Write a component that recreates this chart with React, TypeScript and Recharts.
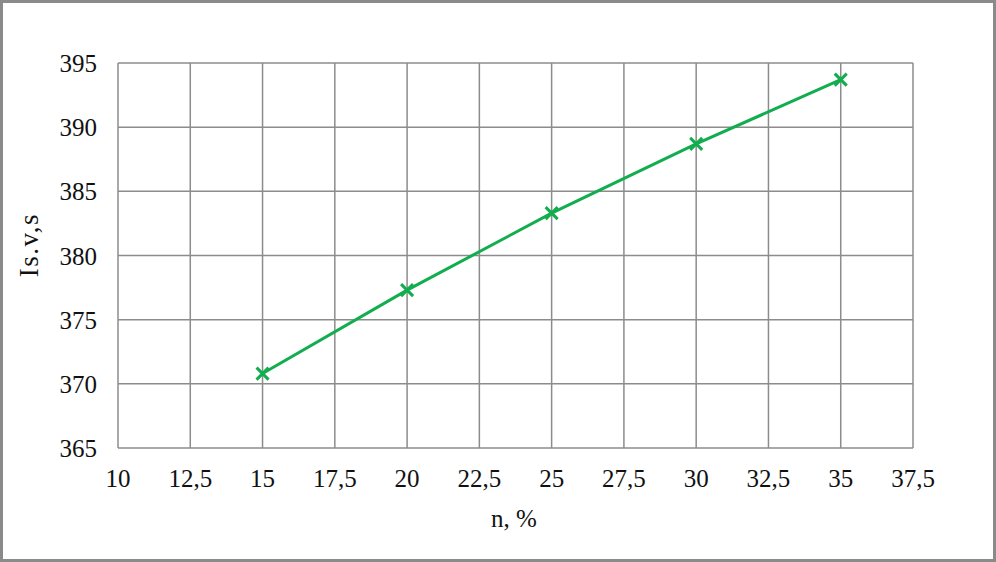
import { LineChart, Line, XAxis, YAxis, CartesianGrid } from 'recharts';

// n, % values and the measured Is.v,s
const nValues = [15, 20, 25, 30, 35];
const isvsValues = [370.8, 377.3, 383.3, 388.7, 393.7];

const xTicks = [10, 12.5, 15, 17.5, 20, 22.5, 25, 27.5, 30, 32.5, 35, 37.5];
const yTicks = [365, 370, 375, 380, 385, 390, 395];

const data = nValues.map((n, i) => ({ n, value: isvsValues[i] }));

const GREEN = '#12ad4f';
const FONT = '"Liberation Serif", "Times New Roman", serif';

// cross-shaped marker
const CrossDot = (props: any) => {
  const { cx, cy, index } = props;
  const s = 6;
  return (
    <g key={`dot-${index}`}>
      <line x1={cx - s} y1={cy - s} x2={cx + s} y2={cy + s} stroke={GREEN} strokeWidth={3} />
      <line x1={cx - s} y1={cy + s} x2={cx + s} y2={cy - s} stroke={GREEN} strokeWidth={3} />
    </g>
  );
};

const XTick = (props: any) => {
  const { x, y, payload } = props;
  return (
    <text x={x} y={y + 31} textAnchor="middle" fill="#111" fontSize={25} fontFamily={FONT}>
      {String(payload.value).replace('.', ',')}
    </text>
  );
};

const YTick = (props: any) => {
  const { x, y, payload } = props;
  return (
    <text x={x - 13} y={y + 9} textAnchor="end" fill="#111" fontSize={25} fontFamily={FONT}>
      {payload.value}
    </text>
  );
};

export default function App() {
  return (
    <div style={{ position: 'absolute', left: 0, top: 0, width: 996, height: 562, background: '#fff' }}>
      <LineChart
        width={996}
        height={562}
        data={data}
        margin={{ top: 63, right: 83, bottom: 54, left: 0 }}
        style={{ fontFamily: FONT }}
      >
        <CartesianGrid stroke="#8c8c8c" strokeWidth={1.5} />
        <XAxis
          dataKey="n"
          type="number"
          domain={[10, 37.5]}
          ticks={xTicks}
          axisLine={false}
          tickLine={false}
          height={60}
          tick={XTick}
        />
        <YAxis
          type="number"
          domain={[365, 395]}
          ticks={yTicks}
          axisLine={false}
          tickLine={false}
          width={118}
          tick={YTick}
        />
        <Line
          type="linear"
          dataKey="value"
          stroke={GREEN}
          strokeWidth={3}
          dot={CrossDot}
          activeDot={false}
          isAnimationActive={false}
        />
        <text x={514} y={527} textAnchor="middle" fill="#111" fontSize={25} fontFamily={FONT}>
          n, %
        </text>
        <text
          x={38}
          y={245}
          textAnchor="middle"
          fill="#111"
          fontSize={27}
          fontFamily={FONT}
          letterSpacing={1.5}
          transform="rotate(-90 38 245)"
        >
          Is.v,s
        </text>
      </LineChart>
      <div
        style={{
          position: 'absolute',
          inset: 0,
          border: '3px solid #8a8a8a',
          boxSizing: 'border-box',
          pointerEvents: 'none',
        }}
      />
    </div>
  );
}
